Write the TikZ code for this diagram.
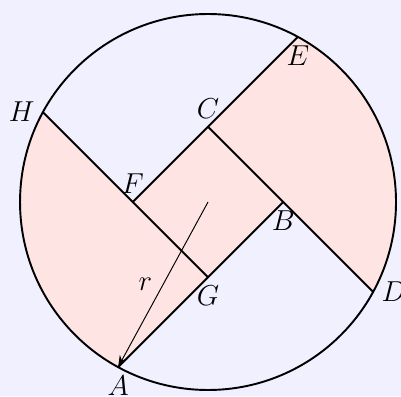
\documentclass[tikz,border=0pt]{standalone}
\usepackage{xcolor}
\usepackage{tikz}
\usetikzlibrary{arrows.meta}
\definecolor{bgcol}{RGB}{240,240,255}
\definecolor{pinkfill}{RGB}{255,228,228}

\begin{document}
\begin{tikzpicture}[every node/.style={font=\fontsize{13}{15}\selectfont}, edge/.style={draw=black, thick}]
    \fill[bgcol] (-3.043,-2.838) rectangle (2.823,2.955);
    \useasboundingbox (-3.043,-2.838) rectangle (2.823,2.955);

    \coordinate (O) at (0,0);
    \coordinate (C) at (0,1.1);
    \coordinate (B) at (1.1,0);
    \coordinate (G) at (0,-1.1);
    \coordinate (F) at (-1.1,0);
    \coordinate (E) at (61.43:2.75);
    \coordinate (D) at (-28.57:2.75);
    \coordinate (A) at (-118.57:2.75);
    \coordinate (H) at (151.43:2.75);

    \fill[pinkfill] (E) -- (C) -- (B) -- (D) arc[start angle=-28.57, end angle=61.43, radius=2.75] -- cycle;
    \fill[pinkfill] (A) -- (G) -- (F) -- (H) arc[start angle=151.43, end angle=241.43, radius=2.75] -- cycle;
    \fill[pinkfill] (C) -- (B) -- (G) -- (F) -- cycle;

    \draw[edge] (O) circle[radius=2.75];
    \draw[edge] (E) -- (F);
    \draw[edge] (H) -- (G);
    \draw[edge] (C) -- (D);
    \draw[edge] (B) -- (A);
    \draw[-Stealth] (O) -- node[left=1pt] (lr) {$r$} (A);

    \node[above] (lC) at (C) {$C$};
    \node[below] (lB) at (B) {$B$};
    \node[below] (lG) at (G) {$G$};
    \node[above] (lF) at (F) {$F$};
    \node[below] (lE) at (E) {$E$};
    \node[right] (lD) at (D) {$D$};
    \node[below] (lA) at (A) {$A$};
    \node[left] (lH) at (H) {$H$};
  \end{tikzpicture}
\end{document}
